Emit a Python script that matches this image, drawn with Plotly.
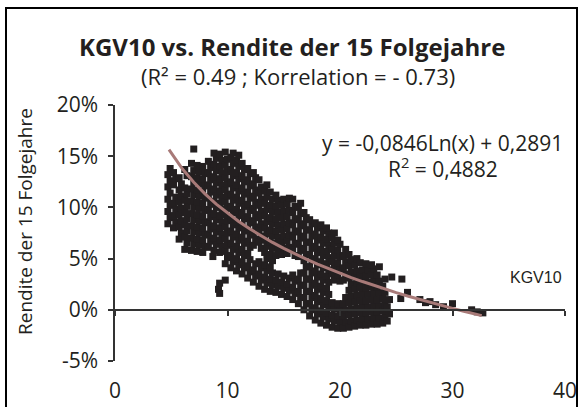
import plotly.graph_objects as go

# KGV10 (x) and Rendite der 15 Folgejahre in % (y)
kgv10 = [
    4.7, 4.9, 4.7, 4.9, 4.7, 4.9, 4.7, 4.9, 4.7, 4.9,
    5.2, 5.4, 5.2, 5.4, 5.2, 5.4, 5.2, 5.4, 5.2,
    5.7, 5.9, 5.7, 5.9, 5.7, 5.9, 5.7, 5.9, 5.7, 5.9, 5.7,
    6.2, 6.4, 6.2, 6.4, 6.2, 6.4, 6.2, 6.4, 6.2, 6.4, 6.2, 6.4, 6.2,
    6.8, 7.0, 6.8, 7.0, 6.8, 7.0, 6.8, 7.0, 6.8, 7.0, 6.8, 7.0, 6.8, 7.0, 6.8, 7.0,
    7.3, 7.5, 7.3, 7.5, 7.3, 7.5, 7.3, 7.5, 7.3, 7.5, 7.3, 7.5, 7.3, 7.5, 7.3,
    7.8, 8.0, 7.8, 8.0, 7.8, 8.0, 7.8, 8.0, 7.8, 8.0, 7.8, 8.0, 7.8, 8.0, 7.8,
    8.3, 8.5, 8.3, 8.5, 8.3, 8.5, 8.3, 8.5, 8.3, 8.5, 8.3, 8.5, 8.3, 8.5, 8.3,
    8.8, 9.0, 8.8, 9.0, 8.8, 9.0, 8.8, 9.0, 8.8, 9.0, 8.8, 9.0, 8.8, 9.0, 8.8, 9.0, 8.8,
    9.3, 9.5, 9.3, 9.5, 9.3, 9.5, 9.3, 9.5, 9.3, 9.5, 9.3, 9.5, 9.3, 9.5, 9.3, 9.5, 9.3,
    9.8, 10.0, 9.8, 10.0, 9.8, 10.0, 9.8, 10.0, 9.8, 10.0, 9.8, 10.0, 9.8, 10.0, 9.8, 10.0, 9.8, 10.0, 9.8,
    10.3, 10.5, 10.3, 10.5, 10.3, 10.5, 10.3, 10.5, 10.3, 10.5, 10.3, 10.5, 10.3, 10.5, 10.3, 10.5, 10.3, 10.5, 10.3, 10.5,
    10.8, 11.0, 10.8, 11.0, 10.8, 11.0, 10.8, 11.0, 10.8, 11.0, 10.8, 11.0, 10.8, 11.0, 10.8, 11.0, 10.8, 11.0, 10.8, 11.0,
    11.3, 11.5, 11.3, 11.5, 11.3, 11.5, 11.3, 11.5, 11.3, 11.5, 11.3, 11.5, 11.3, 11.5, 11.3, 11.5, 11.3, 11.5, 11.3,
    11.8, 12.0, 11.8, 12.0, 11.8, 12.0, 11.8, 12.0, 11.8, 12.0, 11.8, 12.0, 11.8, 12.0, 11.8, 12.0, 11.8, 12.0, 11.8,
    12.3, 12.5, 12.3, 12.5, 12.3, 12.5, 12.3, 12.5, 12.3, 12.5, 12.3, 12.5, 12.3, 12.5, 12.3, 12.5, 12.3,
    12.8, 13.0, 12.8, 13.0, 12.8, 13.0, 12.8, 13.0, 12.8, 13.0, 12.8, 13.0, 12.8, 13.0, 12.8, 13.0, 12.8,
    13.3, 13.5, 13.3, 13.5, 13.3, 13.5, 13.3, 13.5, 13.3, 13.5, 13.3, 13.5, 13.3, 13.5, 13.3, 13.5, 13.3, 13.5,
    13.8, 14.0, 13.8, 14.0, 13.8, 14.0, 13.8, 14.0, 13.8, 14.0, 13.8, 14.0, 13.8, 14.0, 13.8, 14.0, 13.8,
    14.3, 14.5, 14.3, 14.5, 14.3, 14.5, 14.3, 14.5, 14.3, 14.5, 14.3, 14.5, 14.3, 14.5, 14.3,
    14.8, 15.0, 14.8, 15.0, 14.8, 15.0, 14.8, 15.0, 14.8, 15.0, 14.8, 15.0, 14.8, 15.0,
    15.3, 15.5, 15.3, 15.5, 15.3, 15.5, 15.3, 15.5, 15.3, 15.5, 15.3, 15.5, 15.3, 15.5,
    15.8, 16.0, 15.8, 16.0, 15.8, 16.0, 15.8, 16.0, 15.8, 16.0, 15.8, 16.0, 15.8, 16.0, 15.8,
    16.3, 16.5, 16.3, 16.5, 16.3, 16.5, 16.3, 16.5, 16.3, 16.5, 16.3, 16.5, 16.3, 16.5, 16.3, 16.5,
    16.8, 17.0, 16.8, 17.0, 16.8, 17.0, 16.8, 17.0, 16.8, 17.0, 16.8, 17.0, 16.8, 17.0, 16.8, 17.0, 16.8,
    17.3, 17.5, 17.3, 17.5, 17.3, 17.5, 17.3, 17.5, 17.3, 17.5, 17.3, 17.5, 17.3, 17.5, 17.3, 17.5, 17.3,
    17.8, 18.0, 17.8, 18.0, 17.8, 18.0, 17.8, 18.0, 17.8, 18.0, 17.8, 18.0, 17.8, 18.0, 17.8, 18.0, 17.8,
    18.3, 18.5, 18.3, 18.5, 18.3, 18.5, 18.3, 18.5, 18.3, 18.5, 18.3, 18.5, 18.3, 18.5, 18.3, 18.5, 18.3,
    18.8, 19.0, 18.8, 19.0, 18.8, 19.0, 18.8, 19.0, 18.8, 19.0, 18.8, 19.0, 18.8, 19.0, 18.8, 19.0, 18.8,
    19.3, 19.5, 19.3, 19.5, 19.3, 19.5, 19.3, 19.5, 19.3, 19.5, 19.3, 19.5, 19.3, 19.5,
    19.8, 20.0, 19.8, 20.0, 19.8, 20.0, 19.8, 20.0, 19.8, 20.0, 19.8, 20.0, 19.8,
    20.3, 20.5, 20.3, 20.5, 20.3, 20.5, 20.3, 20.5, 20.3, 20.5, 20.3, 20.5,
    20.8, 21.0, 20.8, 21.0, 20.8, 21.0, 20.8, 21.0, 20.8, 21.0, 20.8, 21.0, 20.8,
    21.3, 21.5, 21.3, 21.5, 21.3, 21.5, 21.3, 21.5, 21.3, 21.5, 21.3, 21.5,
    21.8, 22.0, 21.8, 22.0, 21.8, 22.0, 21.8, 22.0, 21.8, 22.0, 21.8,
    22.3, 22.5, 22.3, 22.5, 22.3, 22.5, 22.3, 22.5, 22.3, 22.5, 22.3,
    22.8, 23.0, 22.8, 23.0, 22.8, 23.0, 22.8, 23.0, 22.8, 23.0, 22.8,
    23.3, 23.5, 23.3, 23.5, 23.3, 23.5, 23.3, 23.5, 23.3, 23.5,
    23.8, 24.0, 23.8, 24.0, 23.8, 24.0, 23.8, 24.0,
    24.2, 24.4, 24.2, 24.4,
    8.7, 9.2, 9.3, 9.3, 9.8,
    24.6, 25.5, 25.4, 26.0, 27.1, 27.6, 28.0, 28.5, 29.2, 30.0, 31.7, 32.2, 32.7,
]

rendite = [
    8.4, 9.0, 9.6, 10.2, 10.8, 11.4, 12.0, 12.6, 13.2, 13.8,
    8.0, 8.6, 9.2, 9.8, 10.4, 11.0, 12.2, 12.8, 13.4,
    6.9, 7.5, 8.1, 8.7, 9.3, 9.9, 10.5, 11.1, 11.7, 12.3, 12.9,
    5.9, 6.5, 7.1, 7.7, 8.3, 8.9, 9.5, 10.1, 10.7, 11.3, 11.9, 13.1, 13.7,
    5.8, 6.4, 7.0, 7.6, 8.2, 8.8, 9.4, 10.0, 10.6, 11.2, 11.8, 12.4, 13.0, 13.6, 14.3, 15.7,
    5.7, 6.3, 6.9, 7.5, 8.1, 8.7, 9.3, 9.9, 10.5, 11.1, 11.7, 12.3, 12.9, 13.5, 14.1,
    5.6, 6.2, 6.8, 7.4, 8.0, 8.6, 9.2, 9.8, 10.4, 11.0, 11.6, 12.2, 12.8, 13.4, 14.0,
    6.1, 6.7, 7.3, 7.9, 8.5, 9.1, 9.7, 10.3, 10.9, 11.5, 12.1, 12.7, 13.3, 13.9, 14.5,
    5.8, 6.4, 7.0, 7.6, 8.2, 8.8, 9.4, 10.0, 10.6, 11.2, 11.8, 12.4, 13.0, 13.6, 14.2, 14.8, 15.3,
    5.6, 6.2, 6.8, 7.4, 8.0, 8.6, 9.2, 9.8, 10.4, 11.0, 11.6, 12.2, 12.8, 13.4, 14.0, 14.6, 15.2,
    4.5, 5.1, 5.7, 6.3, 6.9, 7.5, 8.1, 8.7, 9.3, 9.9, 10.5, 11.1, 11.7, 12.3, 12.9, 13.5, 14.1, 14.7, 15.4,
    4.1, 4.7, 5.3, 5.9, 6.5, 7.1, 7.7, 8.3, 8.9, 9.5, 10.1, 10.7, 11.3, 11.9, 12.5, 13.1, 13.7, 14.3, 14.9, 15.3,
    3.8, 4.4, 5.0, 5.6, 6.2, 6.8, 7.4, 8.0, 8.6, 9.2, 9.8, 10.4, 11.0, 11.6, 12.2, 12.8, 13.4, 14.0, 14.6, 15.1,
    3.5, 4.1, 4.7, 5.3, 5.9, 6.5, 7.1, 7.7, 8.3, 8.9, 9.5, 10.1, 10.7, 11.3, 11.9, 12.5, 13.1, 13.7, 14.3,
    3.1, 3.7, 4.3, 4.9, 5.5, 6.1, 6.7, 7.3, 7.9, 8.5, 9.1, 9.7, 10.3, 10.9, 11.5, 12.1, 12.7, 13.3, 13.8,
    2.7, 3.3, 3.9, 4.5, 6.3, 6.9, 7.5, 8.1, 8.7, 9.3, 9.9, 10.5, 11.1, 11.7, 12.3, 12.9, 13.4,
    2.3, 2.9, 3.5, 4.1, 4.7, 6.0, 6.6, 7.2, 7.8, 8.4, 9.0, 9.6, 10.2, 10.8, 11.4, 12.0, 12.7,
    2.0, 2.6, 3.2, 3.8, 4.4, 5.0, 5.6, 6.2, 6.8, 7.4, 8.0, 8.6, 9.2, 9.8, 10.4, 11.0, 11.6, 12.2,
    1.8, 2.4, 3.0, 3.6, 4.2, 4.8, 5.4, 6.0, 6.6, 7.2, 7.8, 8.4, 9.0, 9.6, 10.2, 10.8, 11.5,
    1.7, 2.3, 2.9, 3.5, 5.3, 5.9, 6.5, 7.1, 7.7, 8.3, 8.9, 9.5, 10.1, 10.7, 11.2,
    1.5, 2.1, 2.7, 3.3, 5.4, 6.0, 6.6, 7.2, 7.8, 8.4, 9.0, 9.6, 10.2, 10.8,
    1.3, 1.9, 2.5, 3.1, 5.5, 6.1, 6.7, 7.3, 7.9, 8.5, 9.1, 9.7, 10.3, 10.9,
    1.0, 1.6, 2.2, 2.8, 3.4, 5.3, 5.9, 6.5, 7.1, 7.7, 8.3, 8.9, 9.5, 10.1, 10.8,
    0.6, 1.2, 1.8, 2.4, 3.0, 3.6, 5.2, 5.8, 6.4, 7.0, 7.6, 8.2, 8.8, 9.4, 10.0, 10.4,
    0.0, 0.6, 1.2, 1.8, 2.4, 3.0, 3.6, 4.2, 4.8, 5.4, 6.0, 6.6, 7.2, 7.8, 8.4, 9.0, 9.5,
    -0.6, 0.0, 0.6, 1.2, 1.8, 2.4, 3.0, 3.6, 4.2, 4.8, 5.4, 6.0, 6.6, 7.2, 7.8, 8.4, 8.8,
    -1.0, -0.4, 0.2, 0.8, 1.4, 2.0, 2.6, 3.2, 3.8, 4.4, 5.0, 5.6, 6.2, 6.8, 7.4, 8.0, 8.5,
    -1.3, -0.7, -0.1, 0.5, 1.1, 1.7, 2.3, 2.9, 3.5, 4.1, 4.7, 5.3, 5.9, 6.5, 7.1, 7.7, 8.3,
    -1.5, -0.9, -0.3, 0.3, 0.9, 1.5, 2.1, 2.7, 3.3, 3.9, 4.5, 5.1, 5.7, 6.3, 6.9, 7.5, 8.0,
    -1.7, -1.1, -0.5, 0.1, 0.7, 2.9, 3.5, 4.1, 4.7, 5.3, 5.9, 6.5, 7.0, 7.5,
    -1.8, -1.2, -0.6, 0.0, 0.6, 2.8, 3.4, 4.0, 4.6, 5.2, 5.8, 6.4, 6.8,
    -1.8, -1.2, -0.6, 0.0, 0.6, 1.2, 2.9, 3.5, 4.1, 4.7, 5.3, 5.9,
    -1.7, -1.1, -0.5, 0.1, 0.7, 1.3, 1.9, 2.5, 3.1, 3.7, 4.3, 4.9, 5.4,
    -1.6, -1.0, -0.4, 0.2, 0.8, 1.4, 2.0, 2.6, 3.2, 3.8, 4.4, 5.0,
    -1.5, -0.9, -0.3, 0.3, 0.9, 1.5, 2.1, 2.7, 3.3, 3.9, 4.6,
    -1.5, -0.9, -0.3, 0.3, 0.9, 1.5, 2.1, 2.7, 3.3, 3.9, 4.5,
    -1.4, -0.8, -0.2, 0.4, 1.0, 1.6, 2.2, 2.8, 3.4, 4.0, 4.4,
    -1.4, -0.8, -0.2, 0.4, 1.0, 1.6, 2.2, 2.8, 3.4, 4.2,
    -1.3, -0.7, -0.1, 0.5, 1.1, 1.7, 2.3, 3.0,
    -1.1, -0.4, 0.3, 1.0,
    5.2, 2.0, 2.6, 1.6, 2.9,
    3.2, 3.0, 1.1, 1.7, 1.0, 0.7, 0.8, 0.5, 0.3, 0.6, 0.0, -0.2, -0.3,
]

# logarithmic trend line as drawn on the chart (y = -0,0846 Ln(x) + 0,2891)
trend_x = [4.8, 6, 7, 8, 9, 10, 11, 12, 13, 14, 15, 16, 17, 18, 19, 20, 21, 22, 23, 24,
           25, 26, 27, 28, 29, 30, 31, 32, 32.6]
trend_y = [15.64, 13.75, 12.45, 11.32, 10.32, 9.43, 8.62, 7.89, 7.21, 6.58, 6.00, 5.45, 4.94,
           4.46, 4.00, 3.57, 3.15, 2.76, 2.38, 2.02, 1.68, 1.35, 1.03, 0.72, 0.42, 0.14,
           -0.14, -0.41, -0.57]

x_ticks = [0, 10, 20, 30, 40]
y_ticks = [-5, 0, 5, 10, 15, 20]

n = min(len(kgv10), len(rendite))

W, H = 583, 407
L, R, T, B = 115, 18, 105, 46
PW, PH = W - L - R, H - T - B


def px(x):
    return (x - L) / PW


def py(y):
    return (H - B - y) / PH


FONT = "Open Sans"
INK = "#231f20"

fig = go.Figure()
fig.add_trace(go.Scatter(
    x=kgv10[:n], y=rendite[:n], mode="markers",
    marker=dict(symbol="square", size=7, color=INK, line=dict(width=0)),
    xaxis="x", yaxis="y", hoverinfo="skip", showlegend=False,
))
fig.add_trace(go.Scatter(
    x=trend_x, y=trend_y, mode="lines",
    line=dict(color="#a87a78", width=3),
    xaxis="x2", yaxis="y", hoverinfo="skip", showlegend=False,
))

fig.update_layout(
    width=W, height=H,
    margin=dict(l=L, r=R, t=T, b=B, pad=0),
    paper_bgcolor="white", plot_bgcolor="white",
    font=dict(family=FONT, color=INK),
    showlegend=False,
    xaxis=dict(
        range=[0, 40], tickvals=x_ticks, ticktext=[str(v) for v in x_ticks],
        showline=False, ticks="", showgrid=False, zeroline=False,
        tickfont=dict(family=FONT, size=21, color=INK),
        ticklabelstandoff=15, automargin=False,
    ),
    xaxis2=dict(
        overlaying="x", matches="x", anchor="free", position=0.2,
        range=[0, 40], tickvals=x_ticks, showticklabels=False,
        showline=True, linecolor="#333333", linewidth=1.5,
        ticks="outside", ticklen=5, tickcolor="#333333", tickwidth=1.5,
        showgrid=False, zeroline=False,
    ),
    yaxis=dict(
        range=[-5, 20], tickvals=y_ticks, ticktext=[f"{v}%" for v in y_ticks],
        showline=True, linecolor="#333333", linewidth=1.5,
        ticks="outside", ticklen=5, tickcolor="#333333", tickwidth=1.5,
        showgrid=False, zeroline=False,
        tickfont=dict(family=FONT, size=21, color=INK),
        ticklabelstandoff=6, automargin=False,
    ),
    shapes=[dict(
        type="rect", xref="paper", yref="paper",
        x0=px(6), x1=px(577), y0=py(412), y1=py(8),
        line=dict(color="black", width=2), fillcolor="rgba(0,0,0,0)", layer="above",
    )],
    annotations=[
        dict(text="<b>KGV10 vs. Rendite der 15 Folgejahre</b>", xref="paper", yref="paper",
             x=px(292), y=py(46), xanchor="center", yanchor="middle", showarrow=False,
             font=dict(family=FONT, size=24, color=INK)),
        dict(text="(R² = 0.49 ; Korrelation = - 0.73)", xref="paper", yref="paper",
             x=px(298), y=py(76), xanchor="center", yanchor="middle", showarrow=False,
             font=dict(family=FONT, size=22, color=INK)),
        dict(text="Rendite der 15 Folgejahre", xref="paper", yref="paper",
             x=px(25), y=py(222), xanchor="center", yanchor="middle", showarrow=False,
             textangle=-90, font=dict(family=FONT, size=19, color=INK)),
        dict(text="y = -0,0846Ln(x) + 0,2891", xref="paper", yref="paper",
             x=px(442), y=py(143), xanchor="center", yanchor="middle", showarrow=False,
             font=dict(family=FONT, size=21, color=INK)),
        dict(text="R<sup>2</sup> = 0,4882", xref="paper", yref="paper",
             x=px(443), y=py(167), xanchor="center", yanchor="middle", showarrow=False,
             font=dict(family=FONT, size=21, color=INK)),
        dict(text="KGV10", xref="paper", yref="paper",
             x=px(536), y=py(277), xanchor="center", yanchor="middle", showarrow=False,
             font=dict(family="Liberation Sans", size=16, color=INK)),
    ],
)

fig.write_html(
    "out.html",
    config={"displayModeBar": False},
    post_script="document.body.style.margin='0';document.body.style.overflow='hidden';",
)
